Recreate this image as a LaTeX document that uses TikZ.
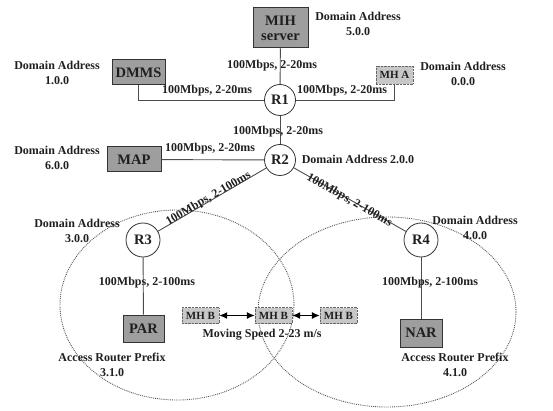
\documentclass[tikz,border=0pt]{standalone}
\usepackage{fontspec}
\setmainfont{Liberation Serif}
\usetikzlibrary{arrows.meta}
\begin{document}
\begin{tikzpicture}[x=1pt,y=-1pt,
  every node/.style={text=black!88},
  txt/.style={font=\bfseries\fontsize{12}{15.5}\selectfont, align=center, inner sep=1pt},
  box/.style={draw=black!80, fill=black!38, line width=1pt, inner sep=0pt, align=center, font=\bfseries\fontsize{14.5}{17}\selectfont},
  mh/.style={draw=black!60, densely dotted, fill=black!22, minimum width=37pt, inner sep=0pt, font=\bfseries\fontsize{11}{12}\selectfont},
  router/.style={circle, draw=black!80, fill=white, line width=0.8pt, minimum size=31pt, inner sep=0pt, font=\bfseries\fontsize{14.5}{15}\selectfont},
  link/.style={draw=black!70, line width=0.9pt},
  cell/.style={draw=black!65, densely dotted, line width=0.9pt},
  dbl/.style={draw=black, line width=1.1pt, {Latex[length=8pt,width=7pt]}-{Latex[length=8pt,width=7pt]}}]
\useasboundingbox (0,0) rectangle (553,411);
% coverage cells
\draw[cell] (177,305) ellipse [x radius=117, y radius=95];
\draw[cell] (387,312) ellipse [x radius=129, y radius=95];
% devices
\node[box, minimum width=55pt, minimum height=40pt] (mih) at (280.5,28) {MIH\\[-2pt]server};
\node[box, minimum width=53pt, minimum height=25pt] (dmms) at (138.5,72.5) {DMMS};
\node[mh, minimum height=18pt] (mha) at (394.5,75) {MH A};
\node[box, minimum width=54pt, minimum height=25pt] (map) at (134,159.5) {MAP};
\node[box, minimum width=41pt, minimum height=27pt] (par) at (143.5,328.5) {PAR};
\node[box, minimum width=42pt, minimum height=28pt] (nar) at (421,333) {NAR};
\node[mh, minimum height=16pt] (mhb1) at (200.5,315.5) {MH B};
\node[mh, minimum height=16pt] (mhb2) at (273.5,315.5) {MH B};
\node[mh, minimum height=16pt] (mhb3) at (338.5,315.5) {MH B};
% routers
\node[router] (r1) at (280,100) {R1};
\node[router] (r2) at (280,160) {R2};
\node[router, minimum size=34pt] (r3) at (143,240) {R3};
\node[router, minimum size=34pt] (r4) at (421,240) {R4};
% links
\draw[link] (mih) -- (r1);
\draw[link] (dmms.south) |- (r1.west);
\draw[link] (mha.south) |- (r1.east);
\draw[link] (r1) -- (r2);
\draw[link] (map) -- (r2);
\draw[link] (r2) -- node[txt, sloped, above=-4pt, pos=0.52] (l23) {100Mbps, 2-100ms} (r3);
\draw[link] (r2) -- node[txt, sloped, below=-6pt] (l24) {100Mbps, 2-100ms} (r4);
\draw[link] (r3) -- (par);
\draw[link] (r4) -- (nar);
\draw[dbl] (mhb1) -- (mhb2);
\draw[dbl] (mhb2) -- (mhb3);
% link labels
\node[txt] (lmih) at (272,66) {100Mbps, 2-20ms};
\node[txt] (ldmms) at (207,91) {100Mbps, 2-20ms};
\node[txt] (lmha) at (342,91) {100Mbps, 2-20ms};
\node[txt] (l12) at (278,132) {100Mbps, 2-20ms};
\node[txt] (lmap) at (210,149) {100Mbps, 2-20ms};
\node[txt] (l3p) at (147,283) {100Mbps, 2-100ms};
\node[txt] (l4n) at (430,283) {100Mbps, 2-100ms};
% domain labels
\node[txt] (d5) at (358,24) {Domain Address\\5.0.0};
\node[txt] (d1) at (57,73) {Domain Address\\1.0.0};
\node[txt] (d0) at (463,74) {Domain Address\\0.0.0};
\node[txt] (d6) at (57,158) {Domain Address\\6.0.0};
\node[txt] (d2) at (358,159) {Domain Address 2.0.0};
\node[txt] (d3) at (77,231) {Domain Address\\3.0.0};
\node[txt] (d4) at (475,228) {Domain Address\\4.0.0};
\node[txt] (a3) at (112,365) {Access Router Prefix\\3.1.0};
\node[txt] (a4) at (455,365) {Access Router Prefix\\4.1.0};
\node[txt] (spd) at (262,335) {Moving Speed 2-23 m/s};
\end{tikzpicture}
\end{document}
